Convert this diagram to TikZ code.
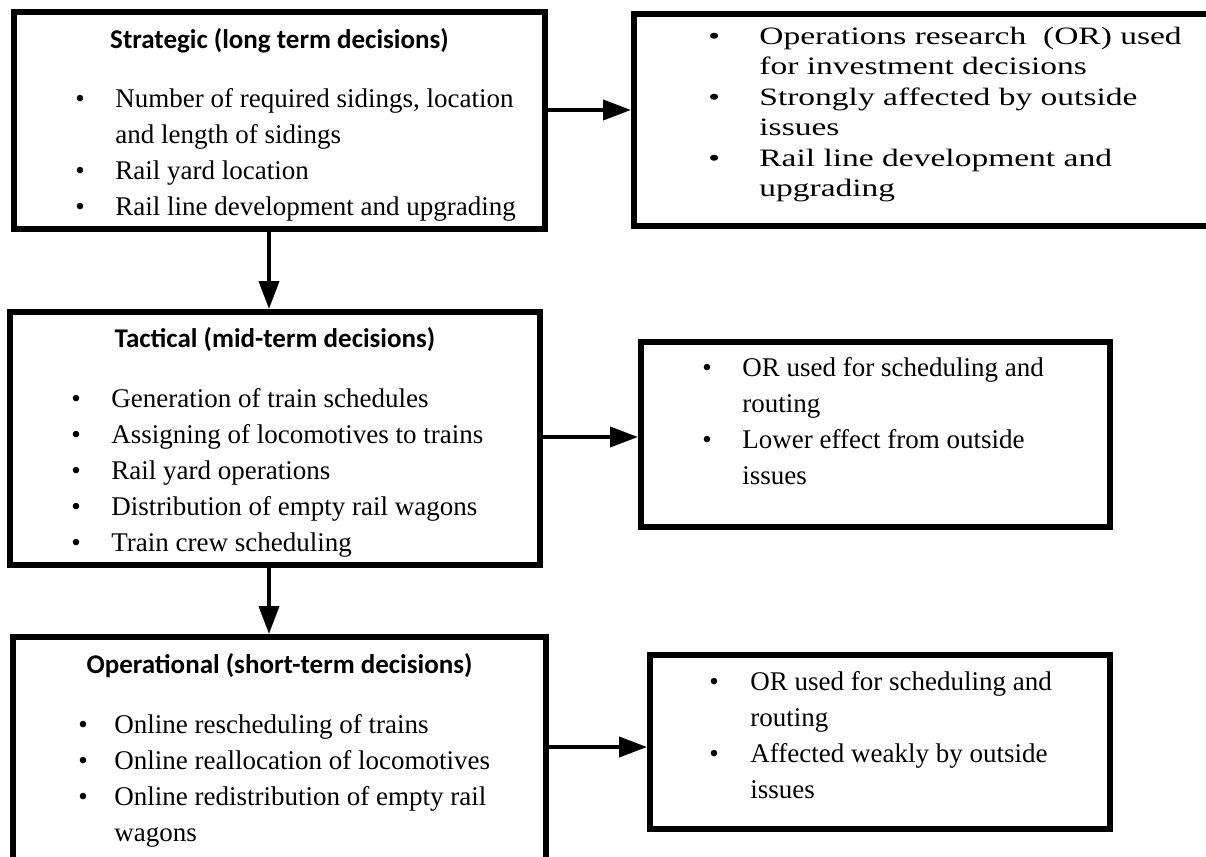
\documentclass[tikz,border=0pt]{standalone}
\usepackage{fontspec}
\setmainfont{Liberation Serif}
\newfontfamily\headfont{Carlito}
\newfontfamily\widefont[FakeStretch=1.34]{Liberation Serif}
\usetikzlibrary{positioning,arrows.meta}

\begin{document}
\begin{tikzpicture}[x=0.5pt, y=-0.5pt,
    box/.style={draw, line width=3pt, outer sep=0pt, inner sep=0pt, anchor=north west},
    head/.style={font=\headfont\bfseries\fontsize{13.5pt}{16pt}\selectfont, anchor=base, inner sep=0pt},
    items/.style={font=\fontsize{13.5pt}{18pt}\selectfont, anchor=base west, inner sep=0pt},
    wideitems/.style={font=\widefont\fontsize{12.5pt}{15.25pt}\selectfont, anchor=base west, inner sep=0pt},
    arr/.style={line width=2pt, -{Triangle[length=14pt,width=10pt]}, shorten >=1.5pt}]
    \useasboundingbox (0,0) rectangle (1206,857);

    % left column: the three decision levels
    \node[box, minimum width=265.5pt, minimum height=108.5pt] (strat) at (14,12) {};
    \node[box, minimum width=265pt, minimum height=126.5pt] (tact) at (10,312) {};
    \node[box, minimum width=266.5pt, minimum height=121.5pt] (oper) at (13,637) {};

    % right column: use of OR
    \node[box, minimum width=298pt, minimum height=106pt] (stratOR) at (634,14) {};
    \node[box, minimum width=234.5pt, minimum height=92.5pt] (tactOR) at (641,342) {};
    \node[box, minimum width=230pt, minimum height=87pt] (operOR) at (650,655) {};

    \node[head] (stratHead) at ([yshift=-18pt]strat.north) {Strategic (long term decisions)};
    \node[items] (stratList) at ([shift={(61,95)}]strat.north west) {%
      \begin{tabular}[t]{@{}p{20pt}@{}l@{}}
        \textbullet & Number of required sidings, location\\
                    & and length of sidings\\
        \textbullet & Rail yard location\\
        \textbullet & Rail line development and upgrading
      \end{tabular}};

    \node[head] (tactHead) at ([yshift=-17.5pt]tact.north) {Tactical (mid-term decisions)};
    \node[items] (tactList) at ([shift={(61,95)}]tact.north west) {%
      \begin{tabular}[t]{@{}p{20pt}@{}l@{}}
        \textbullet & Generation of train schedules\\
        \textbullet & Assigning of locomotives to trains\\
        \textbullet & Rail yard operations\\
        \textbullet & Distribution of empty rail wagons\\
        \textbullet & Train crew scheduling
      \end{tabular}};

    \node[head] (operHead) at ([yshift=-18pt]oper.north) {Operational (short-term decisions)};
    \node[items] (operList) at ([shift={(65,96)}]oper.north west) {%
      \begin{tabular}[t]{@{}p{18pt}@{}l@{}}
        \textbullet & Online rescheduling of trains\\
        \textbullet & Online reallocation of locomotives\\
        \textbullet & Online redistribution of empty rail\\
                    & wagons
      \end{tabular}};

    \node[wideitems] (stratORList) at ([shift={(74,30)}]stratOR.north west) {%
      \begin{tabular}[t]{@{}p{25.5pt}@{}l@{}}
        \textbullet & Operations research~ (OR) used\\
                    & for investment decisions\\
        \textbullet & Strongly affected by outside\\
                    & issues\\
        \textbullet & Rail line development and\\
                    & upgrading
      \end{tabular}};

    \node[items] (tactORList) at ([shift={(61,34)}]tactOR.north west) {%
      \begin{tabular}[t]{@{}p{20pt}@{}l@{}}
        \textbullet & OR used for scheduling and\\
                    & routing\\
        \textbullet & Lower effect from outside\\
                    & issues
      \end{tabular}};

    \node[items] (operORList) at ([shift={(59,35)}]operOR.north west) {%
      \begin{tabular}[t]{@{}p{20.5pt}@{}l@{}}
        \textbullet & OR used for scheduling and\\
                    & routing\\
        \textbullet & Affected weakly by outside\\
                    & issues
      \end{tabular}};

    % connectors
    \coordinate (s1) at ([yshift=5.25pt]strat.east);
    \coordinate (t1) at ([yshift=0.75pt]tact.east);
    \coordinate (o1) at ([yshift=5.75pt]oper.east);
    \coordinate (s2) at ([xshift=-5.25pt]strat.south);
    \coordinate (t2) at ([xshift=-3pt]tact.south);
    \draw[arr] (s1) -- (s1 -| stratOR.west);
    \draw[arr] (t1) -- (t1 -| tactOR.west);
    \draw[arr] (o1) -- (o1 -| operOR.west);
    \draw[arr] (s2) -- (s2 |- tact.north);
    \draw[arr] (t2) -- (t2 |- oper.north);
  \end{tikzpicture}
\end{document}
